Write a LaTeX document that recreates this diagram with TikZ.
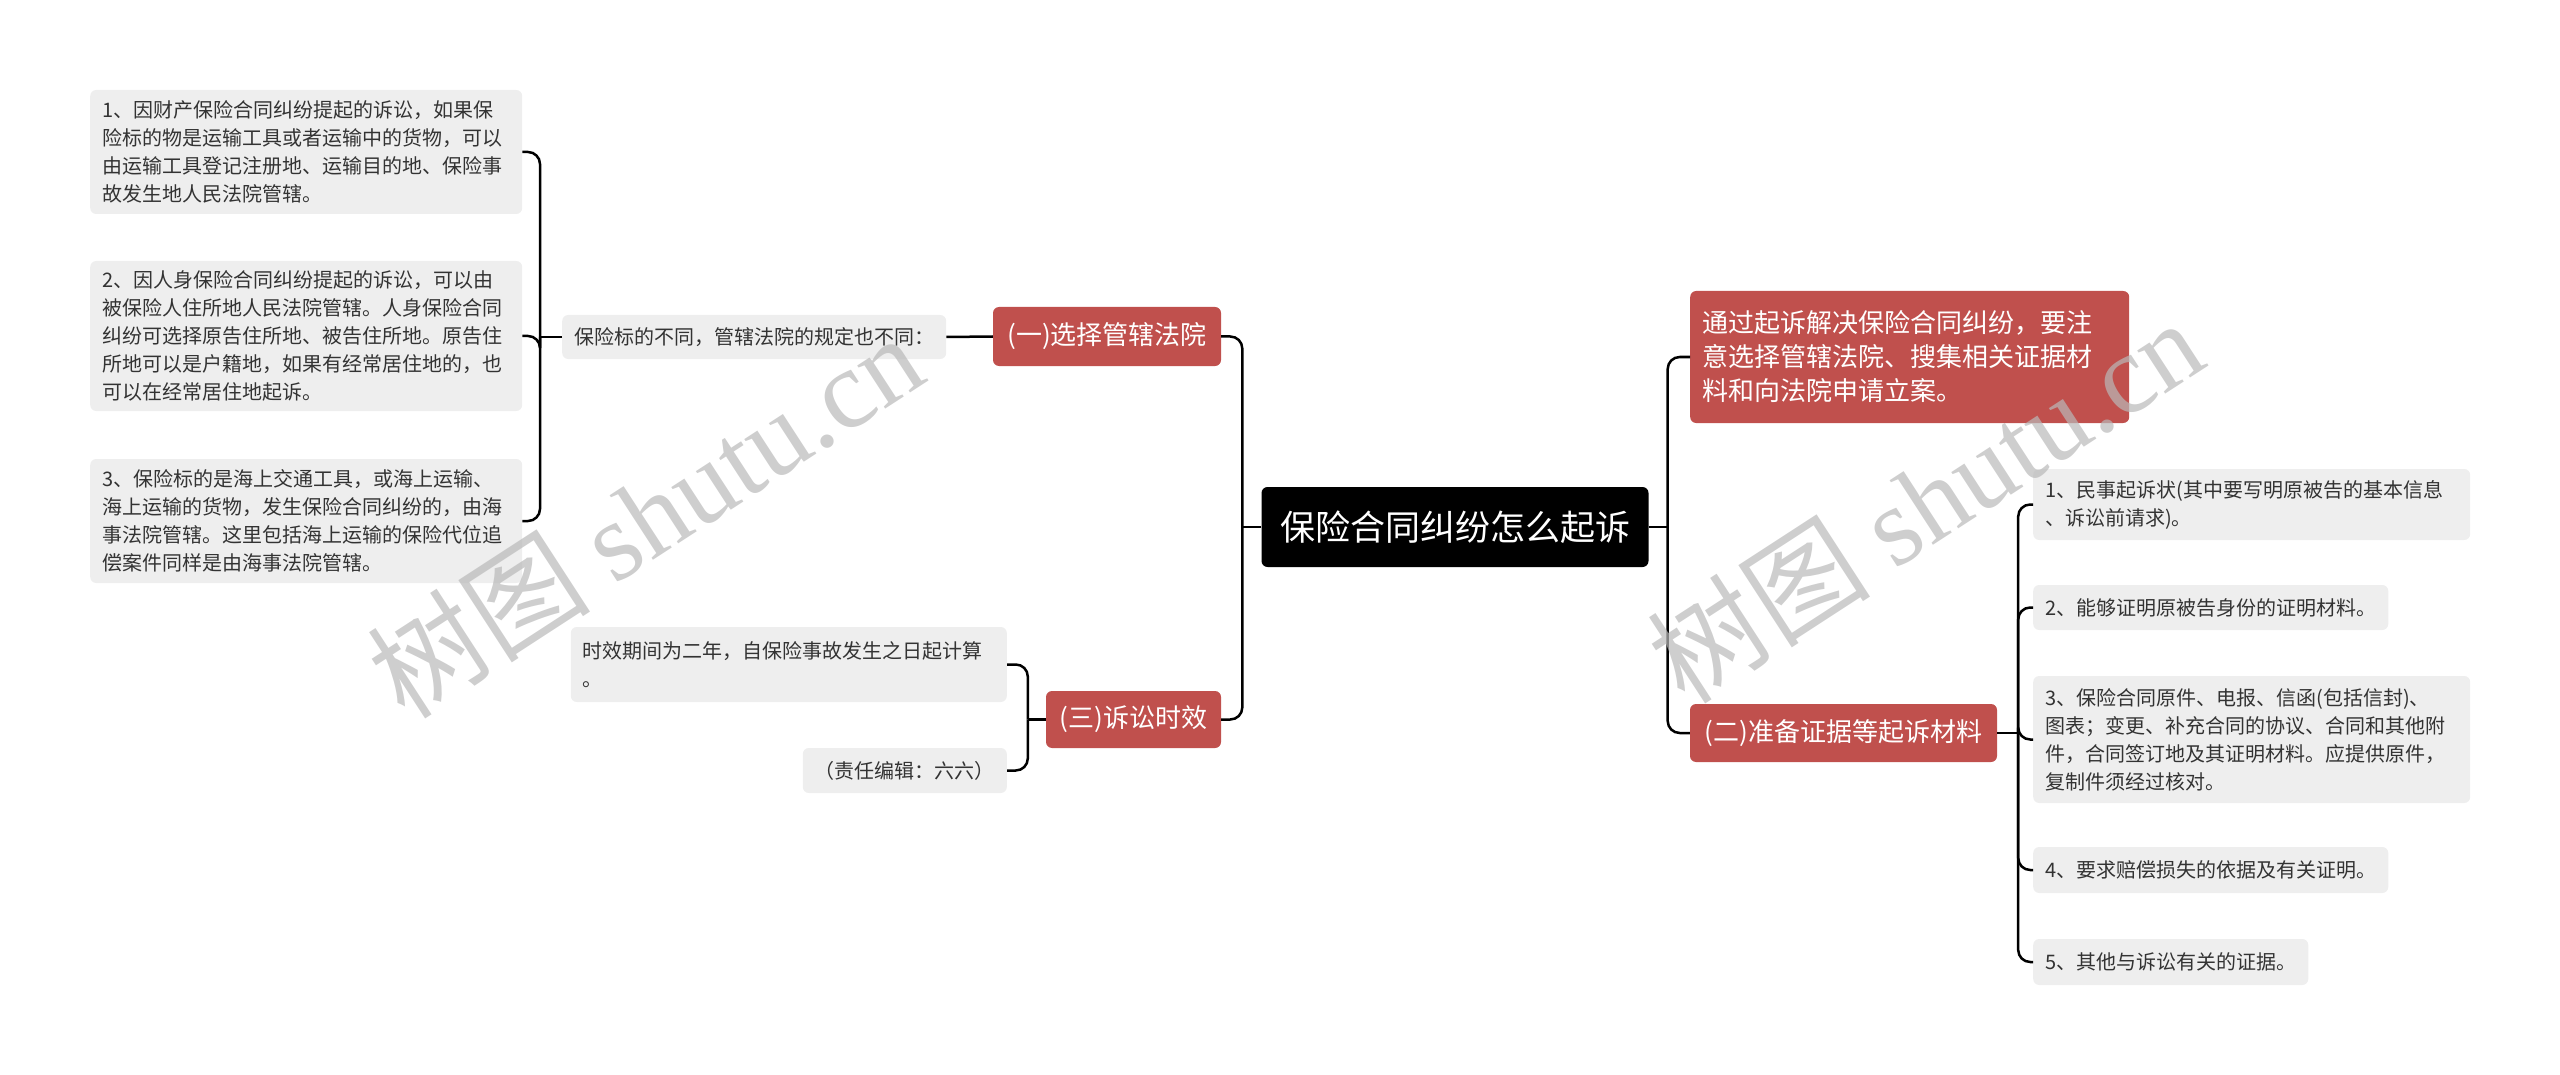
\documentclass[tikz,border=0pt]{standalone}
\usepackage{fontspec}
\setmainfont{Noto Sans CJK SC}
\newfontfamily\wmlatin{Liberation Serif}
\definecolor{branchred}{HTML}{C0504D}
\definecolor{leafgray}{HTML}{EEEEEE}
\definecolor{leaftext}{HTML}{333333}
\tikzset{
  rootbox/.style={fill=black, text=white, rounded corners=6pt, font=\fontsize{35}{40}\selectfont, minimum width=387pt, minimum height=80pt, inner sep=0pt},
  branchbox/.style={fill=branchred, text=white, rounded corners=6pt, font=\fontsize{26}{34}\selectfont, inner xsep=12pt, inner ysep=0pt, align=left},
  leafbox/.style={fill=leafgray, text=leaftext, rounded corners=6pt, font=\fontsize{20}{28}\selectfont, inner xsep=12pt, inner ysep=0pt, align=left},
  conn/.style={line width=2.5pt, rounded corners=12pt},
  watermark/.style={text=gray!55, opacity=0.7, rotate=33, font=\fontsize{112}{112}\selectfont}
}

\begin{document}
\begin{tikzpicture}[x=1pt,y=-1pt]
\useasboundingbox (0,0) rectangle (2560,1075);
% centre and main branches
\node[rootbox] (root) at (1455,527) {保险合同纠纷怎么起诉};
\node[branchbox, minimum width=228pt, minimum height=59pt, align=center] (court) at (1107,336.5) {(一)选择管辖法院};
\node[branchbox, minimum width=175pt, minimum height=57pt, align=center] (limit) at (1133.5,719.5) {(三)诉讼时效};
\node[branchbox, anchor=west, text width=415pt, minimum height=132pt] (intro) at (1690,357) {通过起诉解决保险合同纠纷，要注\\意选择管辖法院、搜集相关证据材\\料和向法院申请立案。};
\node[branchbox, minimum width=307pt, minimum height=58pt, align=center] (proof) at (1843.5,733) {(二)准备证据等起诉材料};

% left leaves
\node[leafbox, anchor=west, minimum height=44pt] (rule) at (562,337) {保险标的不同，管辖法院的规定也不同：};
\node[leafbox, anchor=west, text width=408pt, minimum height=124pt] (rule1) at (90,152) {1、因财产保险合同纠纷提起的诉讼，如果保\\险标的物是运输工具或者运输中的货物，可以\\由运输工具登记注册地、运输目的地、保险事\\故发生地人民法院管辖。};
\node[leafbox, anchor=west, text width=408pt, minimum height=150pt] (rule2) at (90,336) {2、因人身保险合同纠纷提起的诉讼，可以由\\被保险人住所地人民法院管辖。人身保险合同\\纠纷可选择原告住所地、被告住所地。原告住\\所地可以是户籍地，如果有经常居住地的，也\\可以在经常居住地起诉。};
\node[leafbox, anchor=west, text width=408pt, minimum height=124pt] (rule3) at (90,521) {3、保险标的是海上交通工具，或海上运输、\\海上运输的货物，发生保险合同纠纷的，由海\\事法院管辖。这里包括海上运输的保险代位追\\偿案件同样是由海事法院管辖。};
\node[leafbox, anchor=east, text width=412pt, minimum height=75pt] (limit1) at (1007,664.5) {时效期间为二年，自保险事故发生之日起计算\\。};
\node[leafbox, anchor=east, minimum height=45pt] (editor) at (1007,770.5) {（责任编辑：六六）};

% right leaves
\node[leafbox, anchor=west, text width=413pt, minimum height=71pt] (doc1) at (2033,504.5) {1、民事起诉状(其中要写明原被告的基本信息\\、诉讼前请求)。};
\node[leafbox, anchor=west, minimum height=45pt] (doc2) at (2033,607.5) {2、能够证明原被告身份的证明材料。};
\node[leafbox, anchor=west, text width=413pt, minimum height=127pt] (doc3) at (2033,739.5) {3、保险合同原件、电报、信函(包括信封)、\\图表；变更、补充合同的协议、合同和其他附\\件，合同签订地及其证明材料。应提供原件，\\复制件须经过核对。};
\node[leafbox, anchor=west, minimum height=46pt] (doc4) at (2033,870) {4、要求赔偿损失的依据及有关证明。};
\node[leafbox, anchor=west, minimum height=46pt] (doc5) at (2033,962) {5、其他与诉讼有关的证据。};

% junctions
\coordinate (rootL) at ([xshift=-19pt]root.west);
\coordinate (rootR) at ([xshift=19pt]root.east);
\coordinate (courtJ) at ([xshift=-22pt]rule.west);
\coordinate (limitJ) at ([xshift=-18pt]limit.west);
\coordinate (proofJ) at ([xshift=21pt]proof.east);

\draw[conn] (root.west) -- (rootL);
\draw[conn] (rootL) |- (court.east);
\draw[conn] (rootL) |- (limit.east);
\draw[conn] (root.east) -- (rootR);
\draw[conn] (rootR) |- (intro.west);
\draw[conn] (rootR) |- (proof.west);

\draw[conn] (court.west) -- (rule.east);
\draw[conn] (rule.west) -- (courtJ);
\foreach \n in {rule1,rule2,rule3} \draw[conn] (courtJ) |- (\n.east);

\draw[conn] (limit.west) -- (limitJ);
\foreach \n in {limit1,editor} \draw[conn] (limitJ) |- (\n.east);

\draw[conn] (proof.east) -- (proofJ);
\foreach \n in {doc1,doc2,doc3,doc4,doc5} \draw[conn] (proofJ) |- (\n.west);

% watermarks
\node[watermark] (wmL) at (645,515) {树图 {\wmlatin shutu.cn}};
\node[watermark] (wmR) at (1925,500) {树图 {\wmlatin shutu.cn}};
\end{tikzpicture}
\end{document}
